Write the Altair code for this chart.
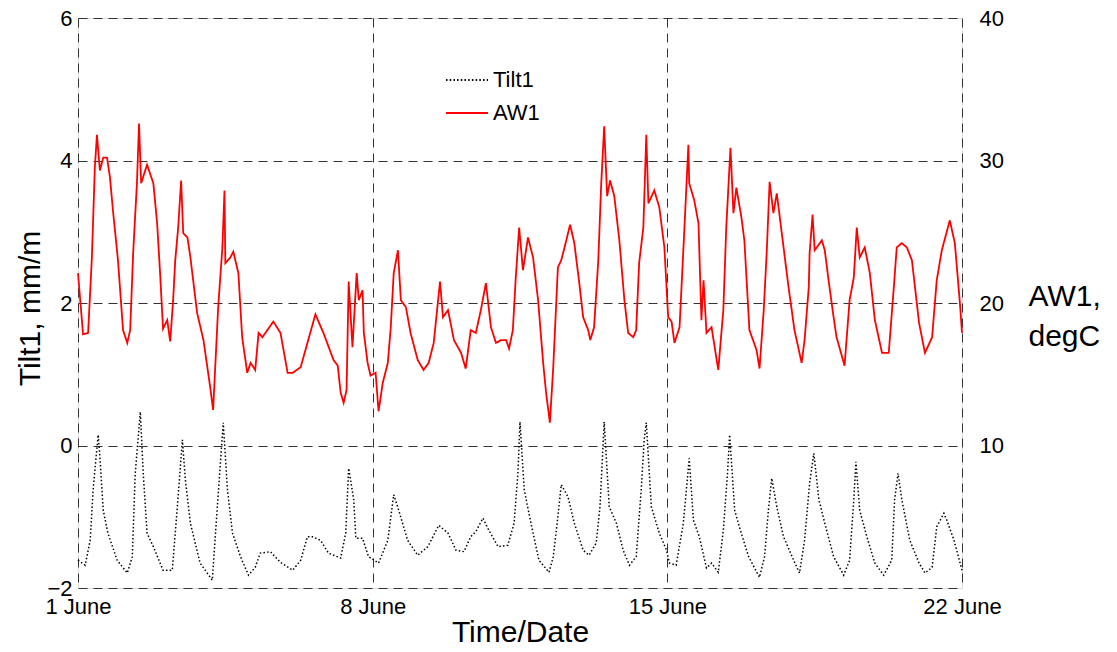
import altair as alt
import pandas as pd

# Tilt1 (mm/m, left axis) : day of June vs value
tilt_day = [1.00, 1.17, 1.29, 1.36, 1.43, 1.48, 1.52, 1.60, 1.71, 1.93, 2.17, 2.29, 2.36, 2.48, 2.55,
            2.64, 2.79, 3.02, 3.24, 3.36, 3.48, 3.55, 3.67, 3.90, 4.19, 4.31, 4.45, 4.55, 4.67, 4.86,
            5.05, 5.21, 5.33, 5.57, 5.81, 6.10, 6.29, 6.45, 6.57, 6.76, 6.95, 7.24, 7.36, 7.43, 7.55,
            7.60, 7.76, 7.90, 8.14, 8.36, 8.50, 8.62, 8.83, 9.07, 9.31, 9.57, 9.79, 9.98, 10.17, 10.33,
            10.45, 10.62, 10.76, 10.98, 11.21, 11.36, 11.45, 11.50, 11.60, 11.76, 11.95, 12.19, 12.29,
            12.40, 12.48, 12.64, 12.79, 13.00, 13.14, 13.31, 13.40, 13.50, 13.62, 13.79, 13.95, 14.10,
            14.26, 14.38, 14.45, 14.50, 14.62, 14.81, 14.98, 15.05, 15.21, 15.38, 15.52, 15.62, 15.76,
            15.93, 16.05, 16.21, 16.33, 16.43, 16.48, 16.60, 16.71, 16.93, 17.19, 17.31, 17.40, 17.48,
            17.60, 17.76, 18.00, 18.14, 18.26, 18.38, 18.48, 18.60, 18.74, 18.95, 19.19, 19.33, 19.43,
            19.48, 19.57, 19.74, 19.93, 20.14, 20.33, 20.40, 20.48, 20.57, 20.76, 20.98, 21.12, 21.29,
            21.40, 21.57, 21.64, 21.81, 22.00]
tilt_val = [-1.61, -1.68, -1.33, -0.62, -0.16, 0.15, -0.16, -0.91, -1.23, -1.61, -1.79, -1.56, -0.39, 0.47, -0.39,
            -1.23, -1.42, -1.75, -1.75, -0.86, 0.08, -0.48, -1.09, -1.65, -1.89, -0.86, 0.32, -0.62, -1.23, -1.56,
            -1.82, -1.71, -1.51, -1.49, -1.64, -1.75, -1.61, -1.28, -1.28, -1.33, -1.51, -1.58, -1.23, -0.32, -0.76,
            -1.30, -1.30, -1.56, -1.65, -1.33, -0.69, -0.91, -1.33, -1.54, -1.42, -1.12, -1.23, -1.47, -1.49, -1.28,
            -1.21, -1.02, -1.19, -1.42, -1.40, -1.09, -0.39, 0.33, -0.62, -1.09, -1.61, -1.78, -1.56,
            -1.00, -0.55, -0.72, -1.09, -1.47, -1.54, -1.37, -0.86, 0.33, -0.86, -1.09, -1.47, -1.68,
            -1.56, -0.62, 0.08, 0.32, -0.86, -1.23, -1.47, -1.65, -1.68, -1.09, -0.18, -1.05, -1.28,
            -1.72, -1.65, -1.78, -1.19, -0.39, 0.15, -0.91, -1.14, -1.56, -1.85, -1.56, -0.91, -0.46,
            -0.86, -1.28, -1.61, -1.79, -1.33, -0.53, -0.11, -0.76, -1.09, -1.56, -1.82, -1.61, -0.76,
            -0.23, -0.91, -1.28, -1.65, -1.82, -1.61, -0.76, -0.39, -0.76, -1.33, -1.65, -1.79, -1.71,
            -1.14, -0.95, -1.05, -1.33, -1.75]

# AW1 (degC, right axis) : day of June vs value
aw_day = [1.00, 1.12, 1.24, 1.33, 1.40, 1.45, 1.52, 1.60, 1.69, 1.76, 1.83, 1.95, 2.07, 2.17, 2.24,
          2.31, 2.40, 2.45, 2.50, 2.64, 2.79, 2.88, 2.95, 3.02, 3.12, 3.19, 3.26, 3.31, 3.38, 3.45,
          3.50, 3.60, 3.67, 3.83, 3.98, 4.14, 4.21, 4.26, 4.33, 4.43, 4.48, 4.50, 4.62, 4.69, 4.81,
          4.90, 5.02, 5.10, 5.21, 5.29, 5.38, 5.50, 5.64, 5.81, 5.98, 6.10, 6.29, 6.45, 6.64, 6.83,
          7.07, 7.17, 7.24, 7.31, 7.38, 7.43, 7.52, 7.62, 7.67, 7.76, 7.79, 7.88, 7.95, 8.07, 8.14,
          8.24, 8.36, 8.43, 8.50, 8.60, 8.67, 8.79, 8.90, 9.07, 9.21, 9.33, 9.45, 9.60, 9.67, 9.79,
          9.93, 10.10, 10.21, 10.33, 10.45, 10.57, 10.69, 10.81, 10.93, 11.05, 11.17, 11.24, 11.33,
          11.40, 11.48, 11.57, 11.69, 11.81, 11.93, 12.05, 12.12, 12.21, 12.29, 12.40, 12.48, 12.60,
          12.69, 12.79, 12.90, 13.00, 13.12, 13.17, 13.26, 13.36, 13.43, 13.50, 13.57, 13.64, 13.74,
          13.86, 13.98, 14.07, 14.19, 14.26, 14.33, 14.43, 14.50, 14.55, 14.69, 14.81, 14.93, 15.02,
          15.10, 15.17, 15.29, 15.40, 15.50, 15.52, 15.64, 15.74, 15.81, 15.86, 15.93, 16.05, 16.21,
          16.33, 16.40, 16.50, 16.57, 16.64, 16.76, 16.83, 16.95, 17.12, 17.19, 17.29, 17.36, 17.43,
          17.52, 17.60, 17.71, 17.88, 18.02, 18.19, 18.26, 18.36, 18.38, 18.45, 18.50, 18.67, 18.74,
          18.83, 18.95, 19.02, 19.21, 19.33, 19.43, 19.50, 19.57, 19.69, 19.81, 19.93, 20.10, 20.26,
          20.38, 20.45, 20.57, 20.69, 20.81, 20.98, 21.12, 21.29, 21.40, 21.52, 21.71, 21.83, 21.95,
          22.00]
aw_val = [22.1, 17.8, 17.9, 23.2, 29.5, 31.8, 29.3, 30.2, 30.2, 28.8, 26.5, 23.0, 18.1, 17.2, 18.1,
          23.5, 28.4, 32.6, 28.4, 29.7, 28.4, 25.6, 22.1, 18.2, 18.8, 17.3, 20.2, 23.0, 25.3, 28.6,
          24.9, 24.6, 23.2, 19.3, 17.4, 14.1, 12.5, 15.5, 19.7, 23.9, 27.9, 22.8, 23.2, 23.6, 22.1,
          17.6, 15.1, 15.8, 15.3, 17.9, 17.6, 18.1, 18.7, 17.9, 15.1, 15.1, 15.5, 17.2, 19.2, 17.9,
          16.0, 15.6, 13.7, 13.0, 13.9, 21.5, 16.9, 22.1, 20.2, 20.9, 17.9, 15.8, 14.9, 15.1, 12.4,
          14.4, 15.8, 18.3, 22.1, 23.7, 20.2, 19.7, 17.9, 16.0, 15.3, 15.8, 17.2, 21.5, 19.0, 19.5,
          17.4, 16.5, 15.4, 18.1, 17.9, 19.5, 21.4, 18.3, 17.2, 17.4, 17.4, 16.8, 18.1,
          21.8, 25.3, 22.3, 24.6, 23.2, 20.2, 15.8, 13.7, 11.6, 15.5, 22.5, 23.0, 24.4,
          25.5, 24.2, 21.6, 19.0, 18.1, 17.4, 18.3, 23.0, 28.4, 32.4, 27.5, 28.6, 27.5,
          24.4, 20.2, 17.9, 17.6, 18.1, 22.8, 25.3, 31.8, 27.0, 27.9, 26.7, 23.9, 19.0,
          18.7, 17.2, 18.3, 24.9, 31.1, 28.4, 27.2, 25.6, 18.8, 21.6, 17.9, 18.3, 15.3,
          19.5, 25.3, 30.9, 26.3, 28.1, 26.0, 24.4, 18.1, 16.7, 15.4, 19.5, 23.5, 28.5,
          26.3, 27.7, 25.1, 21.1, 18.1, 15.8, 17.4, 21.1, 23.5, 26.2, 23.7, 24.4, 23.7,
          21.6, 19.0, 17.6, 15.6, 20.2, 21.8, 25.3, 23.2, 23.9, 22.1, 18.8, 16.5, 16.5,
          21.1, 23.9, 24.2, 23.9, 23.0, 18.6, 16.5, 17.6, 21.6, 23.7, 25.8, 24.2, 20.0,
          17.9]

series_names = ["Tilt1", "AW1"]
date_ticks = [1, 8, 15, 22]
tilt_ticks = [-2, 0, 2, 4, 6]
aw_ticks = [10, 20, 30, 40]

tilt_df = pd.DataFrame({"day": tilt_day, "value": tilt_val, "series": "Tilt1"})
aw_df = pd.DataFrame({"day": aw_day, "value": aw_val, "series": "AW1"})

FONT = "Liberation Sans"
GRID = dict(gridDash=[9, 6], gridColor="#333333", gridWidth=1, gridOpacity=1)

x_enc = alt.X(
    "day:Q",
    scale=alt.Scale(domain=[1, 22], nice=False, zero=False),
    axis=alt.Axis(values=date_ticks, labelExpr="datum.value + ' June'", title="Time/Date",
                  grid=True, ticks=False, domain=False, labelFontSize=22, labelPadding=8,
                  labelColor="black", titleFontSize=30, titleFontWeight="normal",
                  titleColor="black", titleBaseline="alphabetic", titleY=53,
                  labelFlush=False, labelOverlap=False, **GRID),
)

legend = alt.Legend(title=None, orient="none", legendX=367, legendY=40, symbolType="stroke",
                    symbolSize=1764, symbolStrokeWidth=1.8, labelFontSize=22, labelFont=FONT,
                    labelColor="black", labelOffset=4, rowPadding=-4, padding=0)

color_enc = alt.Color("series:N", scale=alt.Scale(domain=series_names, range=["black", "red"]),
                      legend=legend)
dash_enc = alt.StrokeDash("series:N", scale=alt.Scale(domain=series_names, range=[[1.5, 2.2], [1, 0]]),
                          legend=legend)

tilt_layer = alt.Chart(tilt_df).mark_line(strokeWidth=1.5).encode(
    x=x_enc,
    y=alt.Y("value:Q", scale=alt.Scale(domain=[-2, 6], nice=False, zero=False),
            axis=alt.Axis(orient="left", values=tilt_ticks, title="Tilt1, mm/m", grid=True,
                          ticks=False, domain=False, labelFontSize=22, labelPadding=6,
                          labelColor="black", titleFontSize=30, titleFontWeight="normal",
                          titleColor="black", titleAngle=270, titleAlign="center",
                          titleBaseline="middle", titleX=-48, titleY=290, **GRID)),
    color=color_enc,
    strokeDash=dash_enc,
    order="day:Q",
)

aw_layer = alt.Chart(aw_df).mark_line(strokeWidth=1.8).encode(
    x=x_enc,
    y=alt.Y("value:Q", scale=alt.Scale(domain=[0, 40], nice=False, zero=False),
            axis=alt.Axis(orient="right", values=aw_ticks, title=["AW1,", "degC"], grid=False,
                          ticks=False, domain=False, labelFontSize=22, labelPadding=17,
                          labelColor="black", titleFontSize=30, titleFontWeight="normal",
                          titleColor="black", titleAngle=0, titleAlign="left",
                          titleBaseline="alphabetic", titleX=66, titleY=287, titleLineHeight=40)),
    color=color_enc,
    strokeDash=dash_enc,
    order="day:Q",
)

chart = alt.layer(tilt_layer, aw_layer).resolve_scale(y="independent").properties(
    width=884, height=570,
    autosize=alt.AutoSizeParams(type="none"),
    padding={"left": 70, "top": 10, "right": 140, "bottom": 54},
).configure_view(stroke="black", strokeWidth=1.2).configure(font=FONT, background="white")

chart.save("out.html", embed_options={"renderer": "svg", "actions": False})
